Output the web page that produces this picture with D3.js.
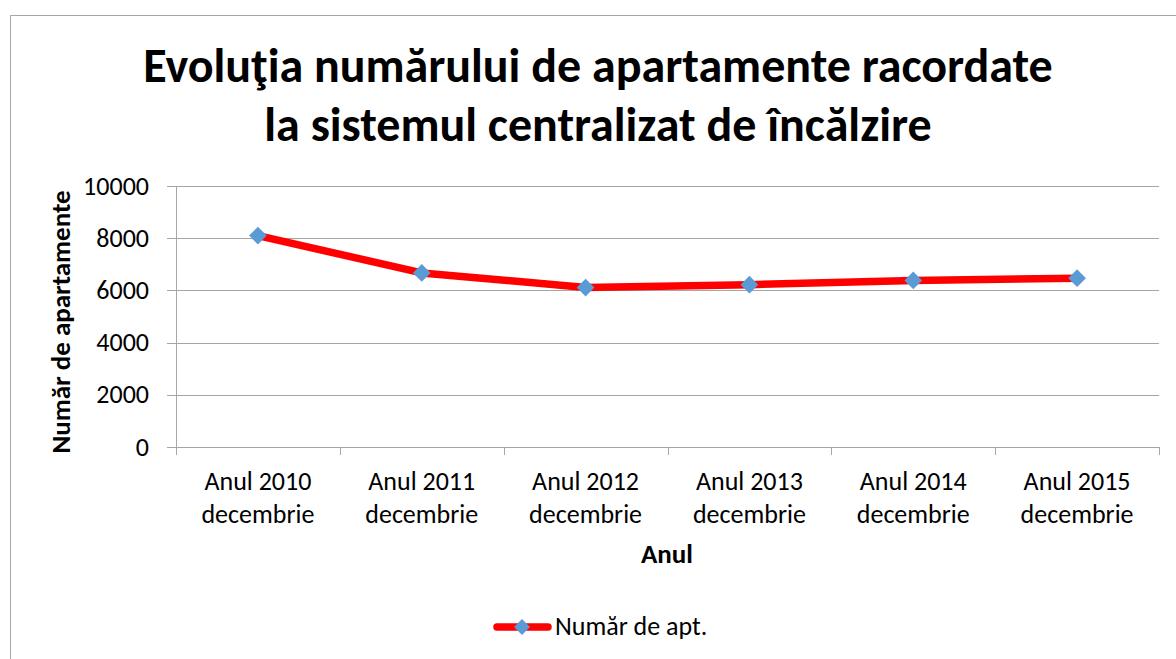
<!DOCTYPE html>
<html>
<head>
<meta charset="utf-8">
<script src="https://cdn.jsdelivr.net/npm/d3@7"></script>
<style>
  body { margin: 0; background: #fff; }
  text { font-family: Carlito, Calibri, "Open Sans", sans-serif; fill: #000; }
</style>
</head>
<body>
<div id="chart"></div>
<script>
// chart data
var years = ['Anul 2010', 'Anul 2011', 'Anul 2012', 'Anul 2013', 'Anul 2014', 'Anul 2015'];
var months = ['decembrie', 'decembrie', 'decembrie', 'decembrie', 'decembrie', 'decembrie'];
var apartments = [8100, 6670, 6110, 6220, 6380, 6470];
var yTicks = [0, 2000, 4000, 6000, 8000, 10000];
var titleLines = ['Evoluţia numărului de apartamente racordate', 'la sistemul centralizat de încălzire'];
var seriesName = 'Număr de apt.';

var width = 1176, height = 659;
var margin = {top: 186, right: 17, bottom: 212, left: 176};
var w = width - margin.left - margin.right,
    h = height - margin.top - margin.bottom;

var svg = d3.select('#chart').append('svg')
    .attr('width', width)
    .attr('height', height);

// outer chart border
svg.append('rect')
    .attr('x', 10.5).attr('y', 15.5)
    .attr('width', width).attr('height', height)
    .attr('fill', 'none')
    .attr('stroke', '#a6a6a6');

// title
svg.append('g').selectAll('text')
    .data(titleLines)
    .enter().append('text')
    .attr('x', 598)
    .attr('y', function(d, i) { return 82 + i * 59; })
    .attr('text-anchor', 'middle')
    .style('font-size', '48px')
    .style('font-weight', 'bold')
    .text(function(d) { return d; });

var g = svg.append('g')
    .attr('transform', 'translate(' + margin.left + ',' + margin.top + ')');

var x = d3.scaleBand().domain(years).range([0, w]);
var y = d3.scaleLinear().domain([0, 10000]).range([h, 0]);

// gridlines
g.append('g').selectAll('line')
    .data(yTicks)
    .enter().append('line')
    .attr('x1', -9).attr('x2', w)
    .attr('y1', function(d) { return Math.round(y(d)) + 0.5; })
    .attr('y2', function(d) { return Math.round(y(d)) + 0.5; })
    .attr('stroke', '#a6a6a6');

// y axis line
g.append('line')
    .attr('x1', 0.5).attr('x2', 0.5)
    .attr('y1', 0).attr('y2', h)
    .attr('stroke', '#a6a6a6');

// y tick labels
g.append('g').selectAll('text')
    .data(yTicks)
    .enter().append('text')
    .attr('x', -27)
    .attr('y', function(d) { return y(d); })
    .attr('dy', '0.33em')
    .attr('text-anchor', 'end')
    .style('font-size', '26px')
    .text(function(d) { return d; });

// x tick marks at band edges
var edges = years.map(function(d) { return x(d); }).concat([w]);
g.append('g').selectAll('line')
    .data(edges)
    .enter().append('line')
    .attr('x1', function(d) { return Math.round(d) + 0.5; })
    .attr('x2', function(d) { return Math.round(d) + 0.5; })
    .attr('y1', h).attr('y2', h + 8)
    .attr('stroke', '#a6a6a6');

// x labels (two lines)
var xl = g.append('g').selectAll('text')
    .data(years)
    .enter().append('text')
    .attr('x', function(d) { return x(d) + x.bandwidth() / 2; })
    .attr('y', h + 43)
    .attr('text-anchor', 'middle')
    .style('font-size', '26px');
xl.append('tspan')
    .attr('x', function(d) { return x(d) + x.bandwidth() / 2; })
    .text(function(d) { return d; });
xl.append('tspan')
    .attr('x', function(d) { return x(d) + x.bandwidth() / 2; })
    .attr('dy', 33)
    .text(function(d, i) { return months[i]; });

// axis titles
svg.append('text')
    .attr('x', 667).attr('y', 563)
    .attr('text-anchor', 'middle')
    .style('font-size', '27px')
    .style('font-weight', 'bold')
    .text('Anul');

svg.append('text')
    .attr('transform', 'translate(70,322) rotate(-90)')
    .attr('text-anchor', 'middle')
    .style('font-size', '27px')
    .style('font-weight', 'bold')
    .text('Număr de apartamente');

// line series
var line = d3.line()
    .x(function(d, i) { return x(years[i]) + x.bandwidth() / 2; })
    .y(function(d) { return y(d); });

g.append('path')
    .datum(apartments)
    .attr('d', line)
    .attr('fill', 'none')
    .attr('stroke', '#ff0000')
    .attr('stroke-width', 7.5)
    .attr('stroke-linejoin', 'round')
    .attr('stroke-linecap', 'round');

var diamond = d3.symbol().type(d3.symbolDiamond2).size(200);

g.append('g').selectAll('path')
    .data(apartments)
    .enter().append('path')
    .attr('d', diamond)
    .attr('transform', function(d, i) {
        return 'translate(' + (x(years[i]) + x.bandwidth() / 2) + ',' + y(d) + ')';
    })
    .attr('fill', '#5b9bd5');

// legend
var lg = svg.append('g').attr('transform', 'translate(0,627)');
lg.append('line')
    .attr('x1', 497).attr('x2', 548)
    .attr('y1', 0).attr('y2', 0)
    .attr('stroke', '#ff0000')
    .attr('stroke-width', 7.5)
    .attr('stroke-linecap', 'round');
lg.append('path')
    .attr('d', d3.symbol().type(d3.symbolDiamond2).size(160))
    .attr('transform', 'translate(522,0)')
    .attr('fill', '#5b9bd5');
lg.append('text')
    .attr('x', 555).attr('y', 8)
    .style('font-size', '26px')
    .text(seriesName);
</script>
</body>
</html>
